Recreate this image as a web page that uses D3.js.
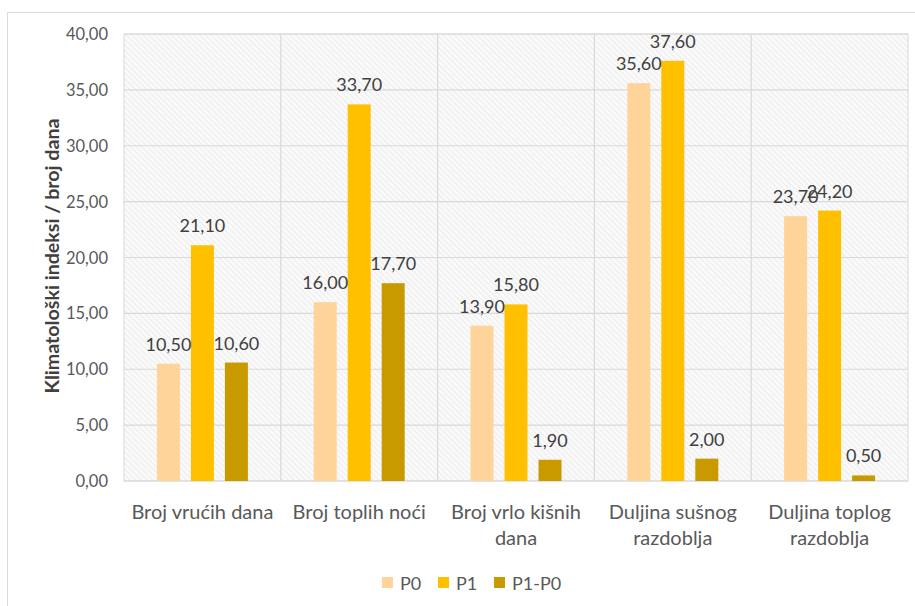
<!DOCTYPE html>
<html>
<head>
<meta charset="utf-8">
<script src="https://cdn.jsdelivr.net/npm/d3@7"></script>
<style>
  body { margin: 0; background: #fff; }
  svg { display: block; }
</style>
</head>
<body>
<svg width="915" height="606"></svg>
<script>
const categories = [
  ["Broj vrućih dana"],
  ["Broj toplih noći"],
  ["Broj vrlo kišnih", "dana"],
  ["Duljina sušnog", "razdoblja"],
  ["Duljina toplog", "razdoblja"],
];
const seriesNames = ["P0", "P1", "P1-P0"];
const p0 = [10.5, 16.0, 13.9, 35.6, 23.7];
const p1 = [21.1, 33.7, 15.8, 37.6, 24.2];
const diff = [10.6, 17.7, 1.9, 2.0, 0.5];
const yTicks = [0, 5, 10, 15, 20, 25, 30, 35, 40];
const colors = ["#FFD49B", "#FFC000", "#C99A00"];

const svg = d3.select("svg");
const fmt = (v) => v.toFixed(2).replace(".", ",");
const font = "Lato, Open Sans, sans-serif";

// outer chart frame
svg.append("rect")
  .attr("x", 7.5).attr("y", 12.5)
  .attr("width", 920).attr("height", 620)
  .attr("fill", "#fff").attr("stroke", "#d9d9d9");

const m = { left: 124, top: 34, right: 908, bottom: 481 };

const defs = svg.append("defs");
const pat = defs.append("pattern")
  .attr("id", "hatch")
  .attr("patternUnits", "userSpaceOnUse")
  .attr("width", 4).attr("height", 4)
  .attr("patternTransform", "rotate(-45)");
pat.append("rect").attr("width", 4).attr("height", 4).attr("fill", "#fafafa");
pat.append("line")
  .attr("x1", 0).attr("y1", 0).attr("x2", 0).attr("y2", 4)
  .attr("stroke", "#e3e3e3").attr("stroke-width", 1.2);

const x = d3.scaleBand()
  .domain(d3.range(categories.length))
  .range([m.left, m.right]);
const y = d3.scaleLinear().domain([0, 40]).range([m.bottom, m.top]);

svg.append("rect")
  .attr("x", m.left).attr("y", m.top)
  .attr("width", m.right - m.left).attr("height", m.bottom - m.top)
  .attr("fill", "url(#hatch)").attr("stroke", "#d9d9d9");

// horizontal gridlines
svg.append("g")
  .selectAll("line")
  .data(yTicks)
  .join("line")
  .attr("x1", m.left).attr("x2", m.right)
  .attr("y1", (d) => y(d)).attr("y2", (d) => y(d))
  .attr("stroke", "#d9d9d9").attr("stroke-width", 1.2);

// vertical category separators
svg.append("g")
  .selectAll("line")
  .data(d3.range(1, categories.length))
  .join("line")
  .attr("x1", (d) => x(d)).attr("x2", (d) => x(d))
  .attr("y1", m.top).attr("y2", m.bottom)
  .attr("stroke", "#d9d9d9").attr("stroke-width", 1.2);

// y axis tick labels
svg.append("g")
  .selectAll("text")
  .data(yTicks)
  .join("text")
  .attr("x", 108).attr("y", (d) => y(d) + 6)
  .attr("text-anchor", "end")
  .attr("font-family", font).attr("font-size", 16.5)
  .attr("fill", "#595959")
  .text(fmt);

svg.append("text")
  .attr("transform", `translate(59,256) rotate(-90)`)
  .attr("text-anchor", "middle")
  .attr("font-family", font).attr("font-size", 18.5).attr("font-weight", "bold")
  .attr("fill", "#404040")
  .attr("textLength", 275).attr("lengthAdjust", "spacingAndGlyphs")
  .text("Klimatološki indeksi / broj dana");

const barW = 23;
const step = 34;
const xs = d3.scaleBand().domain(d3.range(3)).range([0, 3 * step]);
const off = (x.bandwidth() - (2 * step + barW)) / 2;

const rows = categories.map((c, i) => [p0[i], p1[i], diff[i]]);

const groups = svg.append("g")
  .selectAll("g")
  .data(rows)
  .join("g")
  .attr("transform", (d, i) => `translate(${x(i) + off},0)`);

groups.selectAll("rect")
  .data((d) => d)
  .join("rect")
  .attr("x", (d, j) => xs(j))
  .attr("y", (d) => y(d))
  .attr("width", barW)
  .attr("height", (d) => y(0) - y(d))
  .attr("fill", (d, j) => colors[j]);

groups.selectAll("text")
  .data((d) => d)
  .join("text")
  .attr("x", (d, j) => xs(j) + barW / 2)
  .attr("y", (d) => y(d) - 13)
  .attr("text-anchor", "middle")
  .attr("font-family", font).attr("font-size", 18)
  .attr("fill", "#404040")
  .text(fmt);

// category labels
svg.append("g")
  .selectAll("text")
  .data(categories)
  .join("text")
  .attr("x", (d, i) => x(i) + x.bandwidth() / 2)
  .attr("y", 519)
  .attr("text-anchor", "middle")
  .attr("font-family", font).attr("font-size", 20)
  .attr("fill", "#595959")
  .selectAll("tspan")
  .data((d) => d)
  .join("tspan")
  .attr("x", function () { return this.parentNode.getAttribute("x"); })
  .attr("dy", (d, k) => (k === 0 ? 0 : 26))
  .text((d) => d);

// legend
const legendX = [382, 438, 494];
const legend = svg.append("g")
  .selectAll("g")
  .data(seriesNames)
  .join("g")
  .attr("transform", (d, i) => `translate(${legendX[i]},583)`);
legend.append("rect")
  .attr("x", 0).attr("y", -6).attr("width", 11).attr("height", 11)
  .attr("fill", (d, i) => colors[i]);
legend.append("text")
  .attr("x", 18).attr("y", 6.5)
  .attr("font-family", font).attr("font-size", 18)
  .attr("fill", "#595959")
  .text((d) => d);
</script>
</body>
</html>
